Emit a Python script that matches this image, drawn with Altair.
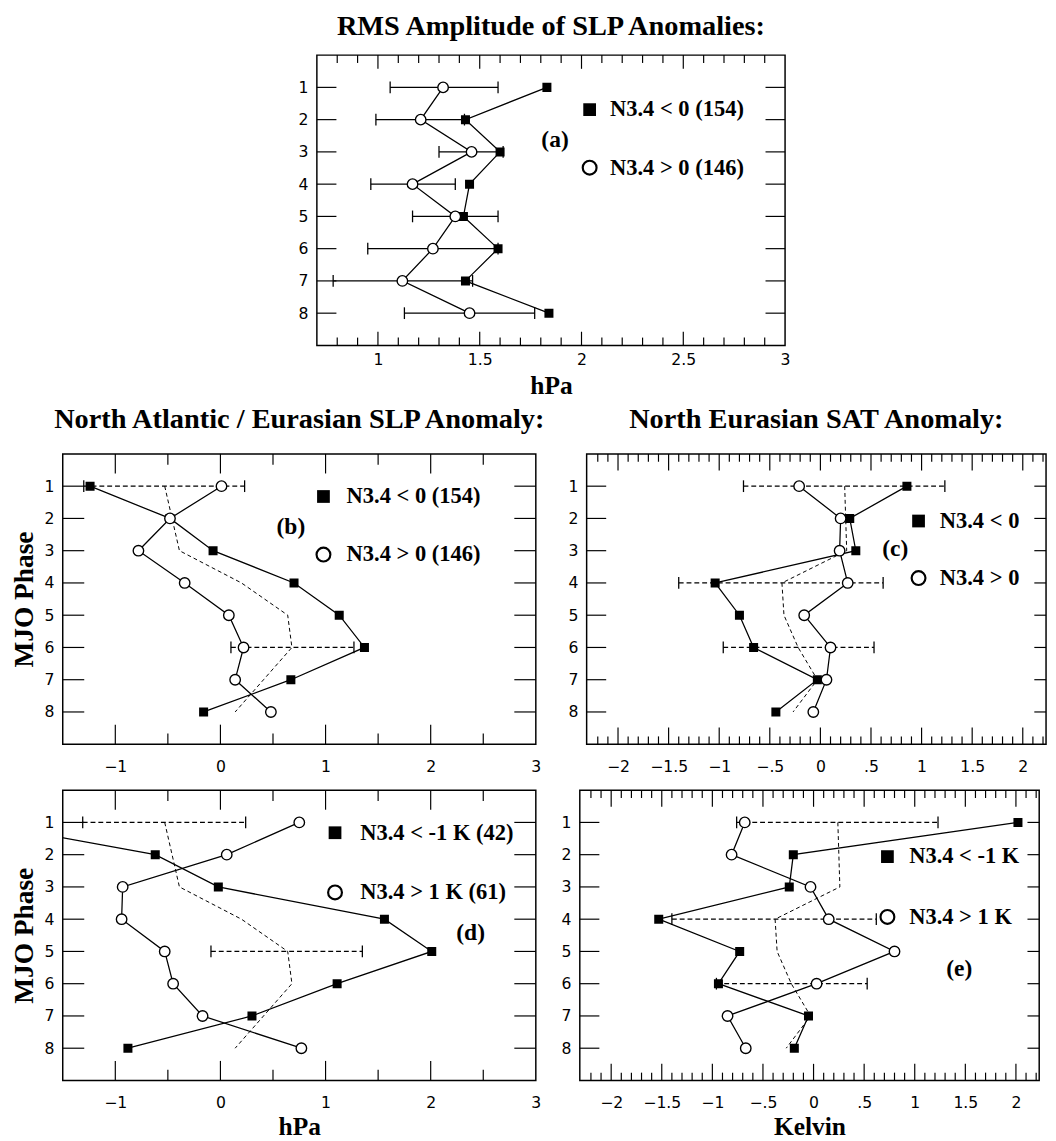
import altair as alt
import pandas as pd

phases = [1, 2, 3, 4, 5, 6, 7, 8]

# ---------- panel (a): RMS amplitude of SLP anomalies (hPa)
a_neg = [1.83, 1.43, 1.60, 1.45, 1.42, 1.59, 1.43, 1.84]
a_pos = [1.32, 1.21, 1.46, 1.17, 1.38, 1.27, 1.12, 1.45]
a_err_lo = [1.06, 0.99, 1.30, 0.965, 1.17, 0.95, 0.78, 1.13]
a_err_hi = [1.59, 1.425, 1.615, 1.38, 1.59, 1.59, 1.465, 1.77]

# ---------- panels (b),(d): North Atlantic / Eurasian SLP anomaly (hPa)
slp_all = [-0.53, -0.46, -0.39, 0.20, 0.64, 0.68, 0.41, 0.14]
b_neg = [-1.24, -0.48, -0.07, 0.70, 1.13, 1.37, 0.67, -0.16]
b_pos = [0.01, -0.48, -0.78, -0.34, 0.08, 0.22, 0.14, 0.48]
b_err_phase = [1, 6]
b_err_lo = [-1.30, 0.10]
b_err_hi = [0.23, 1.27]
d_neg = [-2.30, -0.62, -0.02, 1.56, 2.01, 1.11, 0.30, -0.88]
d_pos = [0.75, 0.06, -0.93, -0.94, -0.53, -0.45, -0.17, 0.77]
d_err_phase = [1, 5]
d_err_lo = [-1.31, -0.09]
d_err_hi = [0.24, 1.35]

# ---------- panels (c),(e): North Eurasian SAT anomaly (K)
sat_all = [0.24, 0.25, 0.26, -0.38, -0.36, -0.22, -0.03, -0.27]
c_neg = [0.855, 0.29, 0.35, -1.04, -0.80, -0.66, -0.03, -0.44]
c_pos = [-0.21, 0.20, 0.19, 0.27, -0.16, 0.10, 0.06, -0.07]
e_neg = [2.02, -0.20, -0.24, -1.53, -0.73, -0.94, -0.05, -0.19]
e_pos = [-0.68, -0.81, -0.03, 0.15, 0.80, 0.03, -0.85, -0.67]
sat_err_phase = [1, 4, 6]
sat_err_lo = [-0.76, -1.40, -0.96]
sat_err_hi = [1.23, 0.62, 0.53]

# ---------- axis ticks
a_x_labels = [1, 1.5, 2, 2.5, 3]
a_x_major = [1.0, 1.5, 2.0, 2.5]
a_x_minor = [0.8, 0.9, 1.1, 1.2, 1.3, 1.4, 1.6, 1.7, 1.8, 1.9, 2.1, 2.2,
             2.3, 2.4, 2.6, 2.7, 2.8, 2.9]
b_x_labels = [-1, 0, 1, 2, 3]
b_x_major = [-1, 0, 1, 2]
b_x_minor = [-0.5, 0.5, 1.5, 2.5]
c_x_labels = [-2, -1.5, -1, -0.5, 0, 0.5, 1, 1.5, 2]
c_x_major = [-2, -1.5, -1, -0.5, 0, 0.5, 1, 1.5, 2]
c_x_minor = [round(i / 10, 1) for i in range(-22, 23) if i % 5 != 0]

SERIF = "Liberation Serif"
SANS = "DejaVu Sans"
H = 297


def panel(xdom, width, neg, pos, clim, err_phase, err_lo, err_hi, dashed_err,
          x_labels, label_expr, x_major, x_minor, maj_len, min_len,
          yl_left, yl_right, leg_x, leg_tx, leg_y1, leg_y2, leg_t1, leg_t2,
          tag, tag_x, tag_y, xtitle=None, ytitle=None, title=None,
          title_offset=12, lab_pad=15, xt_pad=3):
    xscale = alt.Scale(domain=xdom, nice=False, zero=False)
    yscale = alt.Scale(domain=[0, 9], reverse=True, nice=False, zero=False)
    xaxis = alt.Axis(values=x_labels, labelExpr=label_expr, title=xtitle,
                     ticks=False, domain=False, grid=False, labelFont=SANS,
                     labelFontSize=16, labelPadding=lab_pad, labelColor="black",
                     labelFlush=False, labelOverlap=False,
                     titleFont=SERIF, titleFontWeight="bold", titleFontSize=26,
                     titleColor="black", titlePadding=xt_pad)
    yaxis = alt.Axis(values=phases, format="d", title=ytitle, ticks=False,
                     domain=False, grid=False, labelFont=SANS, labelFontSize=16,
                     labelPadding=9, labelColor="black", titleFont=SERIF,
                     titleFontWeight="bold", titleFontSize=28,
                     titleColor="black", titlePadding=6)

    def X(f):
        return alt.X(f + ":Q", scale=xscale, axis=xaxis)

    def Y(f):
        return alt.Y(f + ":Q", scale=yscale, axis=yaxis)

    data = {"phase": phases, "neg": neg, "pos": pos}
    if clim is not None:
        data["clim"] = clim
    df = pd.DataFrame(data)
    base = alt.Chart(df)
    layers = []
    if clim is not None:
        layers.append(base.mark_line(color="black", strokeWidth=1,
                                     strokeDash=[4, 3]).encode(
            x=X("clim"), y=Y("phase"), order="phase:Q"))
    edf = pd.DataFrame({"phase": err_phase, "lo": err_lo, "hi": err_hi})
    if dashed_err:
        rule = alt.Chart(edf).mark_rule(color="black", strokeWidth=1.2,
                                        strokeDash=[5, 3])
    else:
        rule = alt.Chart(edf).mark_rule(color="black", strokeWidth=1.3)
    layers.append(rule.encode(x=X("lo"), x2="hi", y=Y("phase")))
    for f in ["lo", "hi"]:
        layers.append(alt.Chart(edf).mark_tick(
            orient="vertical", size=12, thickness=1.3, color="black",
            opacity=1).encode(x=X(f), y=Y("phase")))
    for f in ["neg", "pos"]:
        layers.append(base.mark_line(color="black", strokeWidth=1.3,
                                     clip=True).encode(
            x=X(f), y=Y("phase"), order="phase:Q"))
    layers.append(base.mark_point(shape="square", filled=True, color="black",
                                  size=85, opacity=1, clip=True).encode(
        x=X("neg"), y=Y("phase")))
    layers.append(base.mark_point(shape="circle", filled=True, fill="white",
                                  stroke="black", strokeWidth=1.4, size=115,
                                  opacity=1, clip=True).encode(
        x=X("pos"), y=Y("phase")))

    # frame ticks (pointing inward)
    def xt(vals, y0, y1):
        return alt.Chart(pd.DataFrame({"v": vals})).mark_rule(
            color="black", strokeWidth=1.2).encode(
            x=X("v"), y=alt.value(y0), y2=alt.value(y1))

    layers += [xt(x_major, 0, maj_len), xt(x_minor, 0, min_len),
               xt(x_major, H, H - maj_len), xt(x_minor, H, H - min_len)]
    pdf = pd.DataFrame({"p": phases})
    layers.append(alt.Chart(pdf).mark_rule(color="black", strokeWidth=1.2).encode(
        y=Y("p"), x=alt.value(0), x2=alt.value(yl_left)))
    layers.append(alt.Chart(pdf).mark_rule(color="black", strokeWidth=1.2).encode(
        y=Y("p"), x=alt.value(width - yl_right), x2=alt.value(width)))

    # in-plot legend
    ldf = pd.DataFrame({"x": [leg_x], "y": [leg_y1]})
    layers.append(alt.Chart(ldf).mark_point(shape="square", filled=True,
                                            color="black", size=170,
                                            opacity=1).encode(
        x=X("x"), y=Y("y")))
    cdf = pd.DataFrame({"x": [leg_x], "y": [leg_y2]})
    layers.append(alt.Chart(cdf).mark_point(shape="circle", filled=True,
                                            fill="white", stroke="black",
                                            strokeWidth=2.2, size=200,
                                            opacity=1).encode(
        x=X("x"), y=Y("y")))
    tdf = pd.DataFrame({"x": [leg_tx, leg_tx], "y": [leg_y1, leg_y2],
                        "t": [leg_t1, leg_t2]})
    layers.append(alt.Chart(tdf).mark_text(
        align="left", baseline="middle", font=SERIF, fontWeight="bold",
        fontSize=23, color="black").encode(x=X("x"), y=Y("y"), text="t:N"))
    gdf = pd.DataFrame({"x": [tag_x], "y": [tag_y], "t": [tag]})
    layers.append(alt.Chart(gdf).mark_text(
        align="center", baseline="middle", font=SERIF, fontWeight="bold",
        fontSize=24, color="black").encode(x=X("x"), y=Y("y"), text="t:N"))

    props = dict(width=width, height=H)
    if title is not None:
        props["title"] = alt.Title(title, font=SERIF, fontSize=29,
                                   fontWeight="bold", color="black",
                                   anchor="middle", offset=title_offset)
    return alt.layer(*layers).properties(**props)


fmt_g = "format(datum.value, '~g')"
fmt_c = "replace(format(datum.value, '~g'), '0.', '.')"

pa = panel([0.7, 3.0], 479, a_neg, a_pos, None, phases, a_err_lo, a_err_hi,
           False, a_x_labels, fmt_g, a_x_major, a_x_minor, 14, 8, 20, 20,
           2.04, 2.14, 1.69, 3.49, "N3.4 < 0 (154)", "N3.4 > 0 (146)",
           "(a)", 1.87, 2.63, xtitle="hPa",
           title="RMS Amplitude of SLP Anomalies:", title_offset=14,
           lab_pad=7, xt_pad=5)
pb = panel([-1.5, 3.0], 484, b_neg, b_pos, slp_all, b_err_phase, b_err_lo,
           b_err_hi, True, b_x_labels, fmt_g, b_x_major, b_x_minor, 20, 11,
           22, 22, 0.98, 1.2, 1.32, 3.12, "N3.4 < 0 (154)", "N3.4 > 0 (146)",
           "(b)", 0.67, 2.27, ytitle="MJO Phase",
           title="North Atlantic / Eurasian SLP Anomaly:", title_offset=20)
pc = panel([-2.31, 2.23], 470, c_neg, c_pos, sat_all, sat_err_phase,
           sat_err_lo, sat_err_hi, True, c_x_labels, fmt_c, c_x_major,
           c_x_minor, 17, 8, 20, 12, 0.97, 1.18, 2.08, 3.85, "N3.4 < 0",
           "N3.4 > 0", "(c)", 0.74, 2.94,
           title="North Eurasian SAT Anomaly:", title_offset=20)
pd_ = panel([-1.5, 3.0], 484, d_neg, d_pos, slp_all, d_err_phase, d_err_lo,
            d_err_hi, True, b_x_labels, fmt_g, b_x_major, b_x_minor, 20, 11,
            22, 22, 1.09, 1.33, 1.32, 3.17, "N3.4 < -1 K (42)",
            "N3.4 > 1 K (61)", "(d)", 2.38, 4.42, xtitle="hPa",
            ytitle="MJO Phase")
pe = panel([-2.31, 2.23], 470, e_neg, e_pos, sat_all, sat_err_phase,
           sat_err_lo, sat_err_hi, True, c_x_labels, fmt_c, c_x_major,
           c_x_minor, 17, 8, 20, 12, 0.73, 0.945, 2.06, 3.93, "N3.4 < -1 K",
           "N3.4 > 1 K", "(e)", 1.44, 5.55, xtitle="Kelvin")

spacer = alt.Chart(pd.DataFrame({"t": [" "]})).mark_text().encode(
    text="t:N", x=alt.value(0), y=alt.value(0)).properties(
    width=239, height=100, view=alt.ViewBackground(stroke="transparent"))

row1 = alt.hconcat(spacer, pa, spacing=0)
row2 = alt.hconcat(pb, pc, spacing=19)
row3 = alt.hconcat(pd_, pe, spacing=19)
bottom = alt.vconcat(row2, row3, spacing=13)
chart = alt.vconcat(row1, bottom, spacing=5).properties(
    padding={"left": 2, "top": -10, "right": 0, "bottom": 0},
    background="white",
).configure_view(stroke="black", strokeWidth=1.5)

chart.save("out.html", embed_options={"renderer": "svg", "actions": False})
